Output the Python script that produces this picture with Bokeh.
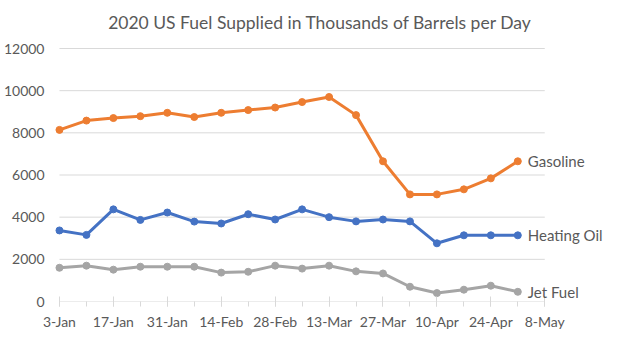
import pandas as pd
from bokeh.plotting import figure
from bokeh.models import ColumnDataSource, FixedTicker, Range1d, LabelSet, Label
from bokeh.core.properties import value
from bokeh.embed import file_html
from bokeh.resources import INLINE

# ---- data ----
week_dates = ["2020-01-03", "2020-01-10", "2020-01-17", "2020-01-24", "2020-01-31",
              "2020-02-07", "2020-02-14", "2020-02-21", "2020-02-28", "2020-03-06",
              "2020-03-13", "2020-03-20", "2020-03-27", "2020-04-03", "2020-04-10",
              "2020-04-17", "2020-04-24", "2020-05-01"]
gasoline = [8140, 8580, 8700, 8790, 8950, 8750, 8950, 9080, 9200, 9460,
            9700, 8840, 6650, 5080, 5080, 5320, 5840, 6650]
heating_oil = [3370, 3160, 4370, 3870, 4220, 3790, 3700, 4140, 3890, 4370,
               4000, 3800, 3890, 3800, 2760, 3140, 3140, 3140]
jet_fuel = [1600, 1700, 1510, 1650, 1650, 1650, 1370, 1410, 1700, 1560,
            1700, 1430, 1330, 700, 400, 560, 750, 460]
series_names = ["Gasoline", "Heating Oil", "Jet Fuel"]
tick_labels = ["3-Jan", "17-Jan", "31-Jan", "14-Feb", "28-Feb", "13-Mar",
               "27-Mar", "10-Apr", "24-Apr", "8-May"]
y_ticks = [0, 2000, 4000, 6000, 8000, 10000, 12000]
title_text = "2020 US Fuel Supplied in Thousands of Barrels per Day"

colors = ["#ED7D31", "#4472C4", "#A5A5A5"]
FONT = "Lato"
TXT = "#595959"
GRID = "#D9D9D9"

W, H = 620, 346
FRAME_LEFT = 47                    # frame edge (a little left of the first date)
AXIS_LEFT, AXIS_RIGHT = 57, 544    # pixel x of first / last x tick
AXIS_TOP, AXIS_BOTTOM = 48, 301    # pixel y of top / bottom y tick
TITLE_CX, TITLE_CY = 318.5, 21.5   # pixel centre of the title

start = pd.Timestamp(week_dates[0])
days = [(pd.Timestamp(d) - start).days for d in week_dates]
tick_days = [(pd.Timestamp(t + "-2020") - start).days for t in tick_labels]
minor_days = list(range(tick_days[0], tick_days[-1] + 1, 7))

# the frame is larger than the axis area so markers, end labels and the
# title are not clipped; gridlines stop at the first / last x tick
ppd = (AXIS_RIGHT - AXIS_LEFT) / (tick_days[-1] - tick_days[0])
ppy = (AXIS_BOTTOM - AXIS_TOP) / (y_ticks[-1] - y_ticks[0])
x_start = tick_days[0] - (AXIS_LEFT - FRAME_LEFT) / ppd
x_end = tick_days[-1] + (W - AXIS_RIGHT) / ppd
y_end = y_ticks[-1] + AXIS_TOP / ppy

p = figure(width=W, height=H, output_backend="svg", toolbar_location=None,
           x_range=Range1d(x_start, x_end),
           y_range=Range1d(y_ticks[0], y_end),
           min_border_left=FRAME_LEFT, min_border_right=0, min_border_top=0,
           min_border_bottom=H - AXIS_BOTTOM)
p.outline_line_color = None
p.background_fill_color = "white"
p.border_fill_color = "white"

p.segment(x0=[tick_days[0]] * len(y_ticks), x1=[tick_days[-1]] * len(y_ticks),
          y0=y_ticks, y1=y_ticks, line_color=GRID, line_width=1)

for vals, c in zip([gasoline, heating_oil, jet_fuel], colors):
    src = ColumnDataSource(dict(x=days, y=vals))
    p.line("x", "y", source=src, line_color=c, line_width=3, line_join="round")
    p.scatter("x", "y", source=src, size=7, fill_color=c, line_color=c)

lab_src = ColumnDataSource(dict(x=[days[-1]] * 3,
                                y=[gasoline[-1], heating_oil[-1], jet_fuel[-1]],
                                t=series_names))
labels = LabelSet(x="x", y="y", text="t", source=lab_src, x_offset=10,
                  text_baseline="middle", text_align="left", text_color=TXT,
                  text_font=value(FONT), text_font_size=value("15px"))
p.add_layout(labels)

title = Label(x=tick_days[0] + (TITLE_CX - AXIS_LEFT) / ppd,
              y=y_ticks[-1] + (AXIS_TOP - TITLE_CY) / ppy,
              text=title_text, text_align="center", text_baseline="middle",
              text_font=FONT, text_font_size="17.5px", text_color=TXT)
p.add_layout(title)

# axes
p.xaxis.ticker = FixedTicker(ticks=tick_days, minor_ticks=minor_days)
p.xaxis.major_label_overrides = {d: t for d, t in zip(tick_days, tick_labels)}
p.xaxis.axis_line_color = None
p.xaxis.major_tick_line_color = GRID
p.xaxis.minor_tick_line_color = GRID
p.xaxis.major_tick_in = 5
p.xaxis.major_tick_out = 5
p.xaxis.minor_tick_in = 0
p.xaxis.minor_tick_out = 5
p.xaxis.major_label_standoff = 6
p.yaxis.ticker = FixedTicker(ticks=y_ticks)
p.yaxis.axis_line_color = None
p.yaxis.major_tick_line_color = None
p.yaxis.minor_tick_line_color = None
p.yaxis.major_tick_in = 0
p.yaxis.major_tick_out = 0
p.yaxis.minor_tick_in = 0
p.yaxis.minor_tick_out = 0
p.yaxis.major_label_standoff = 5
for ax in (p.xaxis, p.yaxis):
    ax.major_label_text_font = FONT
    ax.major_label_text_font_size = "14px"
    ax.major_label_text_color = TXT

p.xgrid.grid_line_color = None
p.ygrid.grid_line_color = None

open("out.html", "w").write(file_html(p, INLINE))
